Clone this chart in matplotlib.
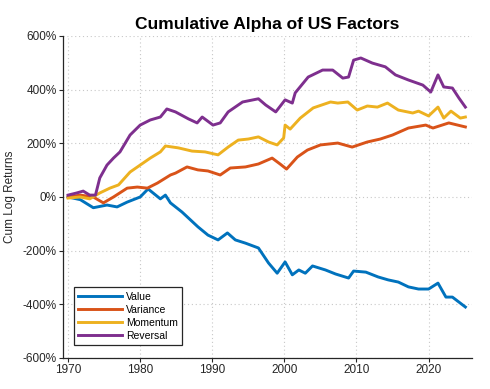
import matplotlib.pyplot as plt
from matplotlib.ticker import FuncFormatter

plt.rcParams['font.family'] = ['Liberation Sans', 'DejaVu Sans']

# values (years, cumulative log return in %)
value_yr = [1970, 1971.7, 1973.5, 1975.4, 1976.8, 1978.2, 1980, 1981.1, 1982.8, 1983.5, 1984.2,
            1985.8, 1988, 1989.4, 1990.8, 1992.1, 1993.2, 1994.6, 1996.4, 1997.8, 1999, 2000.1,
            2001.1, 2002, 2002.9, 2003.9, 2005.7, 2007.1, 2008.9, 2009.6, 2011.3, 2013, 2014.4,
            2015.8, 2017.2, 2018.6, 2020, 2021.3, 2022.4, 2023.3, 2025.1]
value = [0, -10, -40, -30, -37, -19, 0, 30, -7, 7, -22,
         -56, -111, -142, -160, -134, -160, -172, -190, -246, -284, -242,
         -290, -272, -284, -257, -272, -287, -302, -276, -280, -298, -309,
         -317, -335, -343, -343, -321, -373, -373, -410]

var_yr = [1970, 1971.7, 1973.5, 1974.9, 1976.3, 1978.2, 1979.6, 1981, 1982.4, 1984.2, 1984.9,
          1986.5, 1988, 1989.4, 1991.1, 1992.5, 1994.6, 1996.4, 1998.3, 1999.4, 2000.3, 2001.8,
          2003.2, 2005, 2007.4, 2009.4, 2011.5, 2013.3, 2015, 2017.2, 2019.6, 2020.6, 2022.8,
          2025.1]
variance = [0, 7, 0, -22, 0, 33, 37, 33, 52, 82, 89,
            112, 101, 97, 82, 108, 112, 123, 145, 123, 104, 149,
            175, 194, 201, 186, 205, 216, 231, 257, 268, 257, 276,
            261]

mom_yr = [1970, 1971.7, 1973, 1974.4, 1975.8, 1977, 1978.6, 1980, 1981.4, 1982.8, 1983.5,
          1985.3, 1987.2, 1989, 1990.8, 1992.2, 1993.6, 1995, 1996.4, 1997.8, 1999, 1999.9,
          2000.1, 2000.8, 2002.2, 2004, 2006.4, 2007.4, 2008.8, 2010.1, 2011.5, 2012.9, 2014.3,
          2015.8, 2017.8, 2018.6, 2020, 2021.3, 2022.1, 2023.1, 2024.4, 2025.1]
momentum = [-4, 0, -7, 15, 33, 45, 93, 119, 145, 168, 190,
            183, 171, 168, 157, 186, 212, 216, 224, 205, 194, 220,
            268, 253, 294, 332, 354, 350, 354, 324, 339, 335, 350,
            324, 313, 320, 302, 335, 294, 320, 294, 298]

rev_yr = [1970, 1971.2, 1972.1, 1973, 1973.8, 1974.4, 1975.4, 1976.3, 1977.2, 1978.6, 1980,
          1981.4, 1982.8, 1983.7, 1984.9, 1986.7, 1987.9, 1988.6, 1990.1, 1991.1, 1992.2, 1994.2,
          1996.4, 1997.4, 1998.8, 2000.1, 2001.1, 2001.5, 2003.3, 2005.3, 2006.7, 2008.1, 2008.9,
          2009.6, 2010.6, 2012.2, 2014, 2015.4, 2017.2, 2019.2, 2020.3, 2021.3, 2022.1, 2023.3,
          2024.2, 2025.1]
reversal = [7, 15, 22, 7, 7, 71, 119, 145, 168, 231, 268,
            287, 298, 328, 317, 291, 276, 298, 268, 276, 317, 354,
            366, 343, 317, 362, 350, 388, 447, 473, 473, 443, 447,
            510, 518, 499, 485, 455, 436, 417, 391, 455, 410, 406,
            369, 335]

series = [("Value", value_yr, value, "#0072BD"),
          ("Variance", var_yr, variance, "#D95319"),
          ("Momentum", mom_yr, momentum, "#EDB120"),
          ("Reversal", rev_yr, reversal, "#7E2F8E")]

fig = plt.figure(figsize=(4.9, 3.89), dpi=100)
ax = fig.add_axes([0.1286, 0.0797, 0.8344, 0.8278])

for name, x, y, c in series:
    ax.plot(x, [v / 100 for v in y], color=c, lw=2.1, label=name)

ax.set_xlim(1969.3, 2026)
ax.set_ylim(-6, 6)
ax.set_xticks(range(1970, 2021, 10))
ax.set_yticks(range(-6, 7, 2))
ax.yaxis.set_major_formatter(FuncFormatter(lambda v, p: f"{v * 100:.0f}%"))

ax.grid(True, ls=(0, (1, 2.5)), color="#c8c8c8", lw=0.8)
for s in ["top", "right"]:
    ax.spines[s].set_visible(False)
for s in ["left", "bottom"]:
    ax.spines[s].set_color("#262626")
    ax.spines[s].set_linewidth(0.9)
ax.tick_params(direction="out", length=3, width=0.8, colors="#262626", labelsize=8.5, pad=1.5)

ax.set_title("Cumulative Alpha of US Factors", fontsize=12.5, fontweight="bold", pad=5)
ax.set_ylabel("Cum Log Returns", fontsize=8.5, color="#262626", labelpad=5)

leg = ax.legend(loc="lower left", bbox_to_anchor=(0.027, 0.04), fontsize=7.5, handlelength=4.2,
                fancybox=False, framealpha=1, edgecolor="#262626", borderpad=0.4,
                labelspacing=0.3, handletextpad=0.4, borderaxespad=0)
leg.get_frame().set_linewidth(0.9)

fig.savefig("out.png", dpi=100)
